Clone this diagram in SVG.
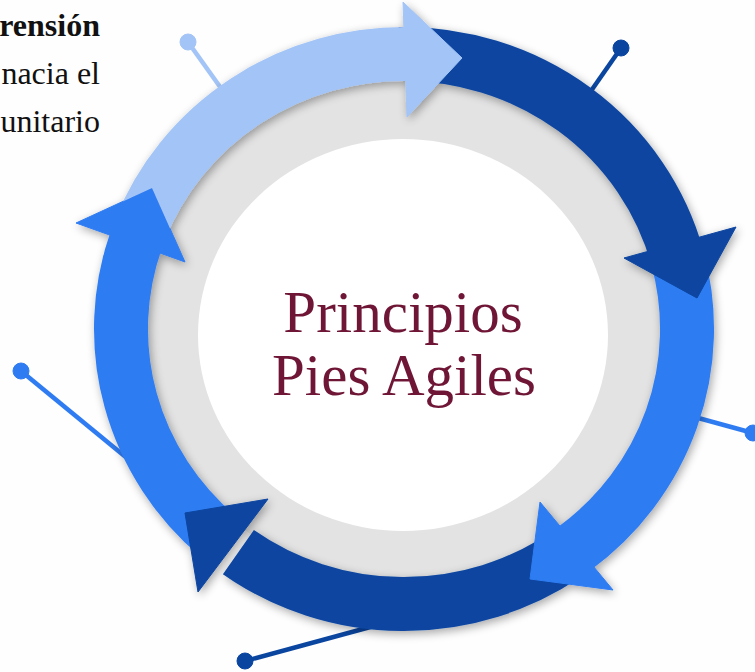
<svg xmlns="http://www.w3.org/2000/svg" width="755" height="672" viewBox="0 0 755 672">
  <style>
    .light { fill: #A3C4F6; stroke: #A3C4F6; }
    .dark { fill: #0A45A0; stroke: #0A45A0; }
    .bright { fill: #2F7CF2; stroke: #2F7CF2; }
    path.shaft { fill: none; stroke-width: 54; stroke-linecap: butt; }
    line.pin { stroke-width: 4.5; fill: none; }
    .side { font-family: "Liberation Serif", "Times New Roman", serif; font-size: 32px; fill: #111111; }
    .title { font-family: "Liberation Serif", "Times New Roman", serif; font-size: 59px; fill: #6F1636; text-anchor: middle; }
  </style>
  <defs>
    <filter id="shadow" x="-10%" y="-10%" width="120%" height="120%">
      <feGaussianBlur in="SourceAlpha" stdDeviation="5"/>
      <feOffset dx="2" dy="3" result="b"/>
      <feComponentTransfer><feFuncA type="linear" slope="0.35"/></feComponentTransfer>
      <feMerge><feMergeNode/><feMergeNode in="SourceGraphic"/></feMerge>
    </filter>
    <filter id="soft" x="-10%" y="-10%" width="120%" height="120%">
      <feGaussianBlur in="SourceAlpha" stdDeviation="4"/>
      <feOffset dx="0" dy="2"/>
      <feComponentTransfer><feFuncA type="linear" slope="0.12"/></feComponentTransfer>
      <feMerge><feMergeNode/><feMergeNode in="SourceGraphic"/></feMerge>
    </filter>
    <mask id="m1" maskUnits="userSpaceOnUse" x="0" y="0" width="755" height="672">
      <rect x="0" y="0" width="755" height="672" fill="white"/>
      <polygon points="76,223 185,262 152,188" fill="black"/>
    </mask>
  </defs>

  <rect x="0" y="0" width="755" height="672" fill="#FEFEFE"/>

  <g id="side-text">
    <text class="side" x="100" y="36" text-anchor="end" font-weight="bold">rensión</text>
    <text class="side" x="100" y="84" text-anchor="end">nacia el</text>
    <text class="side" x="100" y="132" text-anchor="end">unitario</text>
  </g>

  <g id="connectors">
    <line class="pin light" x1="238" y1="112" x2="188" y2="42"/>
    <circle class="light" cx="188" cy="42" r="8" stroke="none"/>
    <line class="pin dark" x1="577" y1="111" x2="621" y2="48"/>
    <circle class="dark" cx="621" cy="48" r="8" stroke="none"/>
    <line class="pin bright" x1="680" y1="413" x2="753" y2="433"/>
    <circle class="bright" cx="753" cy="433" r="8" stroke="none"/>
    <line class="pin dark" x1="385" y1="623" x2="245" y2="661"/>
    <circle class="dark" cx="245" cy="661" r="8" stroke="none"/>
    <line class="pin bright" x1="150" y1="477" x2="21" y2="371"/>
    <circle class="bright" cx="21" cy="371" r="8" stroke="none"/>
  </g>

  <g id="hub" filter="url(#soft)">
    <ellipse cx="404" cy="331" rx="260" ry="252" fill="#E3E3E3"/>
    <ellipse cx="403" cy="335" rx="205" ry="196" fill="#FFFFFF"/>
  </g>

  <g id="ring" filter="url(#shadow)">
    <g id="node-5">
      <path class="shaft bright" d="M218.3,536.5 A283,275 0 0 1 136.4,239.5"/>
      <polygon class="bright" stroke="none" points="76,223 185,262 152,188"/>
    </g>
    <g id="node-4">
      <path class="shaft dark" d="M566.3,554.3 A283,275 0 0 1 238.4,552.1"/>
      <polygon class="dark" stroke="none" points="268,499 198,592 185,513"/>
    </g>
    <g id="node-3">
      <path class="shaft bright" d="M677.4,257.8 A283,275 0 0 1 574.3,548.6"/>
      <polygon class="bright" stroke="none" points="540,502 613,590 530,579"/>
    </g>
    <g id="node-2">
      <path class="shaft dark" d="M399.1,54 A283,275 0 0 1 677.4,257.8"/>
      <polygon class="dark" stroke="none" points="624,258 736,227 697,298"/>
    </g>
    <g id="node-1">
      <path class="shaft light" mask="url(#m1)" d="M139.8,230.4 A283,275 0 0 1 408.9,54"/>
      <polygon class="light" stroke="none" points="403,2 462,58 407,117"/>
    </g>
  </g>

  <g id="center-label">
    <text class="title" x="403" y="332">Principios</text>
    <text class="title" x="404" y="395">Pies Agiles</text>
  </g>
</svg>
